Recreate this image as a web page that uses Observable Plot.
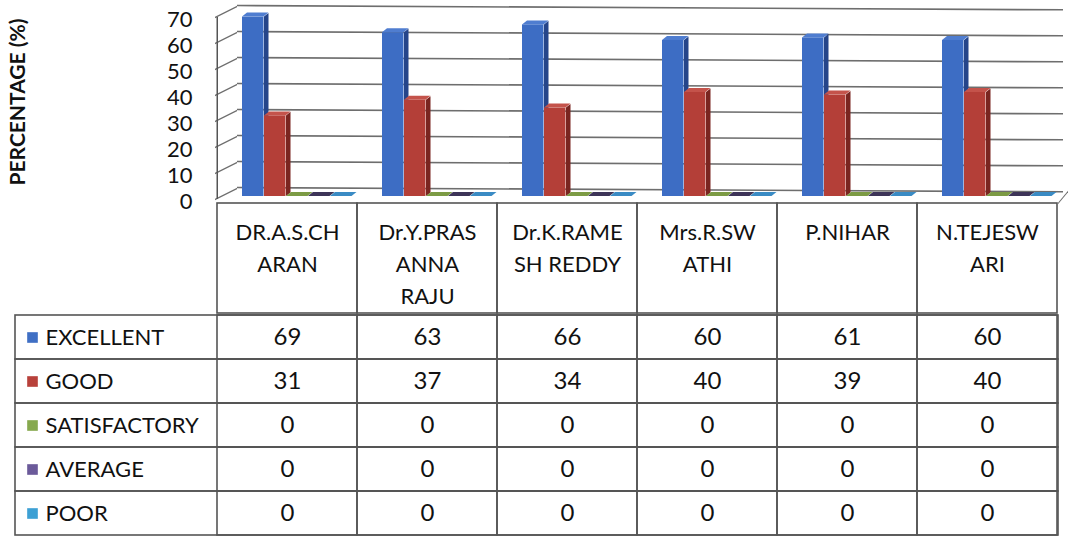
<!DOCTYPE html>
<html>
<head>
<meta charset="utf-8">
<script src="https://cdn.jsdelivr.net/npm/d3@7"></script>
<script src="https://cdn.jsdelivr.net/npm/@observablehq/plot@0.6"></script>
<style>
  body { margin: 0; background: #ffffff; }
  #wrap { position: relative; width: 1070px; height: 539px; overflow: hidden; background: #ffffff; }
  #wrap svg { position: absolute; left: 0; overflow: visible; }
  rect[aria-label="sideface"] { transform-box: fill-box; transform-origin: left bottom; transform: skewY(-38.66deg); }
  rect[aria-label="topface"] { transform-box: fill-box; transform-origin: left bottom; transform: skewX(-51.34deg); }
  line[aria-label="sidewall"] { transform-box: fill-box; transform-origin: left center; transform: skewY(-26.57deg); }
  line[aria-label="backgrid"] { transform-box: fill-box; transform-origin: left center; transform: skewY(0.3deg); }
  line[aria-label="floorright"] { transform-box: fill-box; transform-origin: left center; transform: skewY(-50deg); }
</style>
</head>
<body>
<div id="wrap"></div>
<script>
// ---- data ----
const categories = ["DR.A.S.CHARAN", "Dr.Y.PRASANNA RAJU", "Dr.K.RAMESH REDDY", "Mrs.R.SWATHI", "P.NIHAR", "N.TEJESWARI"];
const categoryLabels = ["DR.A.S.CH\nARAN", "Dr.Y.PRAS\nANNA\nRAJU", "Dr.K.RAME\nSH REDDY", "Mrs.R.SW\nATHI", "P.NIHAR", "N.TEJESW\nARI"];
const series = ["EXCELLENT", "GOOD", "SATISFACTORY", "AVERAGE", "POOR"];
const excellent = [69, 63, 66, 60, 61, 60];
const good = [31, 37, 34, 40, 39, 40];
const satisfactory = [0, 0, 0, 0, 0, 0];
const average = [0, 0, 0, 0, 0, 0];
const poor = [0, 0, 0, 0, 0, 0];
const yTicks = [0, 10, 20, 30, 40, 50, 60, 70];
const yTitle = "PERCENTAGE (%)";

// ---- styles ----
const frontColors = ["#3D6DC4", "#B43F38", "#86A94E", "#5E4C8C", "#3F9BCF"];
const sideColors  = ["#25458A", "#7A2520", "#5C7A2E", "#3A2F5C", "#2A6E98"];
const topColors   = ["#4F7DD0", "#C4534B", "#7C9B44", "#3D3458", "#3A8BC4"];
const swatchColors = ["#3F6FC4", "#B8413B", "#86A94E", "#6B5A9A", "#3DA0D4"];
const lineColor = "#555555";
const gridColor = "#6e6e6e";
const font = "Lato, 'Open Sans', sans-serif";

const values = [excellent, good, satisfactory, average, poor];
const rows = series.flatMap((s, j) => categories.map((c, i) => ({cat: c, series: s, value: values[j][i], j})));

const W = 1070, LEFT = 215, RIGHT = 12;
const bw = (W - RIGHT - LEFT) / categories.length;
const lead = 25, barW = 22, sideW = 5;
const xScale = {type: "band", domain: categories, range: [LEFT, W - RIGHT], padding: 0, axis: null};
const baseStyle = {fontFamily: font, fontSize: "22px", color: "#111", background: "transparent", overflow: "visible"};
const tag = (name) => () => name;

// ---- chart ----
const chartMarks = [
  // left side wall (slanted lines) and back wall grid
  Plot.ruleY(yTicks, {dy: 3, insetRight: (W - RIGHT) - (LEFT + 22), stroke: gridColor, strokeWidth: 1.6, ariaLabel: tag("sidewall")}),
  Plot.ruleY(yTicks, {dx: 22, dy: -9, insetRight: 17, stroke: gridColor, strokeWidth: 1.6, ariaLabel: tag("backgrid")}),
  Plot.ruleX([categories[0]], {dx: -bw / 2, y1: 0, y2: 70, dy: 3, stroke: lineColor, strokeWidth: 1.5}),
  Plot.ruleY([0], {dy: 7, insetLeft: bw * categories.length - 10, dx: 10, stroke: gridColor, strokeWidth: 1.5, ariaLabel: tag("floorright")})
];
series.forEach((s, j) => {
  const data = rows.filter(d => d.j === j);
  const l = lead + barW * j;
  chartMarks.push(
    Plot.barY(data, {x: "cat", y1: 0, y2: "value", insetLeft: l + barW, insetRight: bw - (l + barW + sideW), fill: sideColors[j], ariaLabel: tag("sideface")}),
    Plot.barY(data, {x: "cat", y1: 0, y2: "value", insetLeft: l, insetRight: bw - (l + barW), fill: frontColors[j], ariaLabel: tag("frontface")}),
    Plot.barY(data, {x: "cat", y1: "value", y2: "value", insetTop: -4, insetLeft: l, insetRight: bw - (l + barW), fill: topColors[j], ariaLabel: tag("topface")})
  );
});
chartMarks.push(
  Plot.text(yTicks, {y: d => d, text: d => String(d), frameAnchor: "left", dx: -23, dy: 5, textAnchor: "end", fontSize: 22, fill: "#111"}),
  Plot.text([yTitle], {frameAnchor: "left", dx: -197, rotate: -90, textAnchor: "middle", text: d => d, fontWeight: "bold", fontSize: 21, fill: "#111"})
);

const chart = Plot.plot({
  width: W, height: 203,
  marginTop: 0, marginBottom: 0, marginLeft: LEFT, marginRight: RIGHT,
  x: xScale,
  y: {domain: [0, 70], range: [196, 14], axis: null},
  style: baseStyle,
  marks: chartMarks
});
chart.style.top = "0px";

// ---- header row of the data table ----
const header = Plot.plot({
  width: W, height: 112,
  marginTop: 1, marginBottom: 1, marginLeft: LEFT, marginRight: RIGHT,
  x: xScale,
  style: baseStyle,
  marks: [
    Plot.cell(categories, {x: d => d, fill: "none", stroke: lineColor, strokeWidth: 1.6}),
    Plot.text(categories, {x: d => d, text: (d, i) => categoryLabels[i], frameAnchor: "top", lineAnchor: "top", dy: 14, lineHeight: 1.45, fontSize: 22, fill: "#111"})
  ]
});
header.style.top = "202px";

// ---- data table rows ----
const tableMarks = [
  Plot.cell(series, {y: d => d, fill: "none", stroke: lineColor, strokeWidth: 1.6}),
  Plot.cell(rows, {x: "cat", y: "series", fill: "none", stroke: lineColor, strokeWidth: 1.6}),
  Plot.text(rows, {x: "cat", y: "series", text: d => String(d.value), fontSize: 24, fill: "#111"}),
  Plot.text(series, {y: d => d, text: d => d, frameAnchor: "left", dx: 30, textAnchor: "start", fontSize: 22, fill: "#111"})
];
series.forEach((s, j) => {
  tableMarks.push(Plot.dot([s], {y: d => d, frameAnchor: "left", dx: 17, symbol: "square", r: 6, fill: swatchColors[j], stroke: "none"}));
});
const table = Plot.plot({
  width: W, height: 227,
  marginTop: 1, marginBottom: 3, marginLeft: 15, marginRight: RIGHT,
  x: xScale,
  y: {type: "band", domain: series, padding: 0, axis: null},
  style: baseStyle,
  marks: tableMarks
});
table.style.top = "312px";

const wrap = document.getElementById("wrap");
wrap.append(chart, header, table);
</script>
</body>
</html>
